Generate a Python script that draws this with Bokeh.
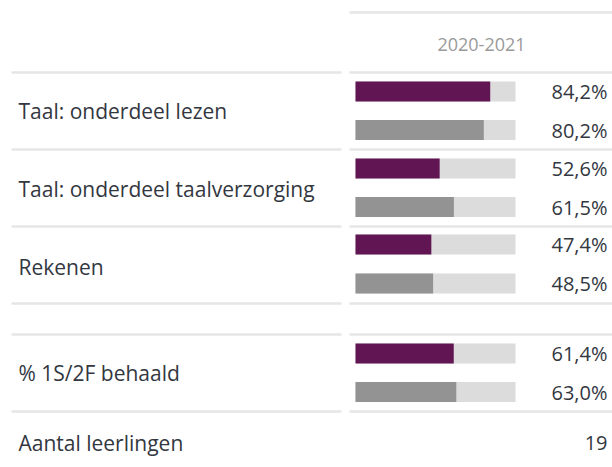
from bokeh.plotting import figure
from bokeh.models import Range1d, ColumnDataSource
from bokeh.core.properties import value
from bokeh.embed import file_html
from bokeh.resources import INLINE

# ---- data ----
period = "2020-2021"
categories = ["Taal: onderdeel lezen", "Taal: onderdeel taalverzorging", "Rekenen", "% 1S/2F behaald"]
school = [84.2, 52.6, 47.4, 61.4]
comparison = [80.2, 61.5, 48.5, 63.0]
count_label = "Aantal leerlingen"
count_value = 19

# ---- layout (pixels) ----
W, H = 612, 467
BAR_X0 = 355.0      # pixel where 0% starts
BAR_W = 160.0       # pixel width of 100%
FONT = "Open Sans"

def px(xp):
    """pixel x -> percent data coordinate"""
    return (xp - BAR_X0) / BAR_W * 100.0

row_school_y = [91, 168, 244, 353]
row_comp_y = [129.5, 206.5, 283, 391.5]
row_label_y = [110, 188, 266, 372]
sep_y = [72, 149, 226, 303, 334, 411]

def fmt(v):
    return f"{v:.1f}".replace(".", ",") + "%"

p = figure(width=W, height=H, output_backend="svg", toolbar_location=None,
           x_range=Range1d(px(0), px(W)), y_range=Range1d(H, 0),
           x_axis_type=None, y_axis_type=None, min_border=0)
p.grid.visible = False
p.outline_line_color = None
p.background_fill_color = "white"
p.border_fill_color = "white"

LINE_C = "#e6e6e6"
# separator lines
p.segment(x0=[px(349)], x1=[px(612)], y0=[12], y1=[12], line_color=LINE_C, line_width=2.5)
p.segment(x0=[px(11)] * len(sep_y), x1=[px(341)] * len(sep_y), y0=sep_y, y1=sep_y,
          line_color=LINE_C, line_width=2.5)
p.segment(x0=[px(349)] * len(sep_y), x1=[px(612)] * len(sep_y), y0=sep_y, y1=sep_y,
          line_color=LINE_C, line_width=2.5)

# background bars (100%)
bg_y = row_school_y + row_comp_y
p.hbar(y=bg_y, left=0, right=100, height=20, fill_color="#dcdcdc", line_color=None)

src_s = ColumnDataSource(dict(y=row_school_y, v=school, lab=[fmt(v) for v in school]))
src_c = ColumnDataSource(dict(y=row_comp_y, v=comparison, lab=[fmt(v) for v in comparison]))

p.hbar(y="y", left=0, right="v", height=20, source=src_s, fill_color="#611653", line_color=None)
p.hbar(y="y", left=0, right="v", height=20, source=src_c, fill_color="#939393", line_color=None)

TXT_C = "#33373f"
# value labels
for src in (src_s, src_c):
    p.text(x=px(607), y="y", text="lab", source=src, text_align="right", text_baseline="middle",
           text_font=value(FONT), text_font_size="20px", text_color=TXT_C)

# category labels
p.text(x=[px(18)] * len(categories), y=row_label_y, text=categories,
       text_align="left", text_baseline="middle",
       text_font=value(FONT), text_font_size="21px", text_color=TXT_C)

# count row
p.text(x=[px(18)], y=[442], text=[count_label], text_align="left", text_baseline="middle",
       text_font=value(FONT), text_font_size="21px", text_color=TXT_C)
p.text(x=[px(607)], y=[442], text=[str(count_value)], text_align="right", text_baseline="middle",
       text_font=value(FONT), text_font_size="20px", text_color=TXT_C)

# header
p.text(x=[px(481)], y=[44], text=[period], text_align="center", text_baseline="middle",
       text_font=value(FONT), text_font_size="18px", text_color="#9a9a9a")

open("out.html", "w").write(file_html(p, INLINE))
